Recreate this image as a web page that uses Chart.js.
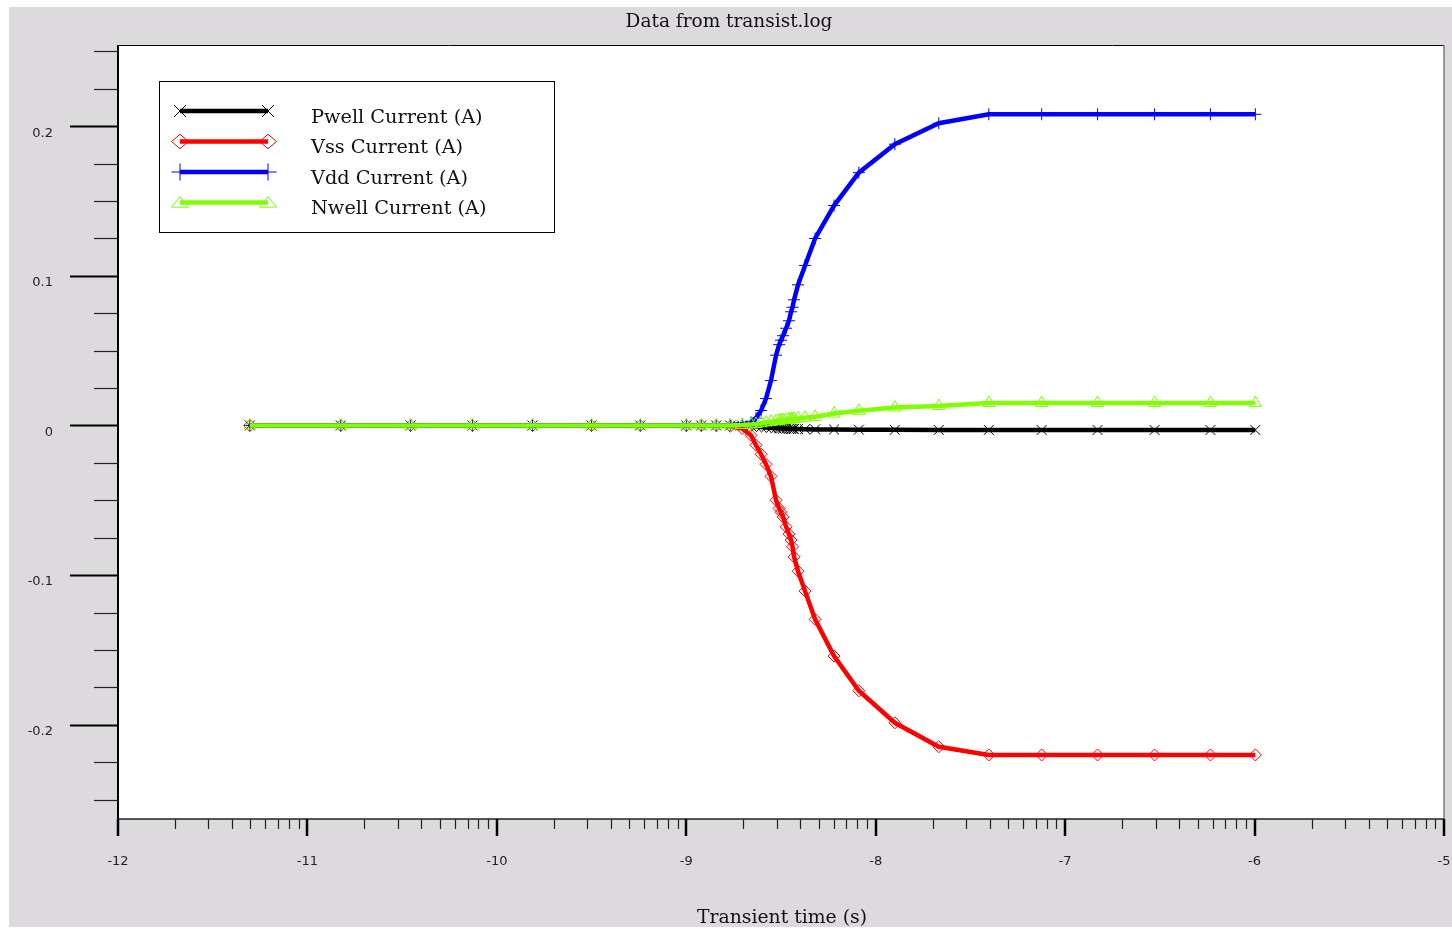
<!DOCTYPE html>
<html><head><meta charset="utf-8">
<script src="https://cdn.jsdelivr.net/npm/chart.js@4.4.1/dist/chart.umd.min.js"></script>
<style>html,body{margin:0;padding:0;background:#fff;overflow:hidden}</style>
</head><body>
<canvas id="c" width="1452" height="929"></canvas>
<script>
const chartTitle = 'Data from transist.log';
const xAxisTitle = 'Transient time (s)';
const seriesNames = ['Pwell Current (A)', 'Vss Current (A)', 'Vdd Current (A)', 'Nwell Current (A)'];
const seriesColors = ['#000000', '#ff0000', '#0000ff', '#80ff00'];
const seriesMarkers = ['crossRot', 'rectRot', 'cross', 'triangle'];

// x values: log10 of transient time (s)
const logTime = [-11.304, -10.824, -10.455, -10.129, -9.812, -9.501, -9.243, -9.0, -8.921, -8.842,
  -8.768, -8.705, -8.658, -8.632, -8.605, -8.579, -8.553, -8.526, -8.510, -8.500,
  -8.489, -8.473, -8.458, -8.447, -8.439, -8.431, -8.410, -8.373, -8.320, -8.220,
  -8.089, -7.899, -7.667, -7.403, -7.124, -6.829, -6.528, -6.233, -5.996];
const pwellCurrent = [0, 0, 0, 0, 0, 0, 0, 0, 0, 0,
  0, 0, -0.0003, -0.0006, -0.001, -0.0013, -0.0016, -0.0018, -0.0019, -0.002,
  -0.002, -0.0021, -0.0022, -0.0022, -0.0023, -0.0023, -0.0024, -0.0025, -0.0026, -0.0027,
  -0.0028, -0.0029, -0.003, -0.003, -0.003, -0.003, -0.003, -0.003, -0.003];
const vssCurrent = [0, 0, 0, 0, 0, 0, 0, 0, 0, 0,
  -0.0005, -0.002, -0.0066, -0.0132, -0.0192, -0.026, -0.034, -0.050, -0.0554, -0.058,
  -0.0611, -0.0677, -0.0726, -0.0766, -0.0811, -0.0878, -0.0974, -0.1107, -0.1296, -0.1541,
  -0.1773, -0.1987, -0.2147, -0.2202, -0.2202, -0.2202, -0.2202, -0.2202, -0.2202];
const vddCurrent = [0, 0, 0, 0, 0, 0, 0, 0, 0, 0,
  0.0003, 0.001, 0.002, 0.005, 0.010, 0.018, 0.030, 0.047, 0.054, 0.057,
  0.060, 0.065, 0.070, 0.076, 0.079, 0.084, 0.094, 0.107, 0.125, 0.147,
  0.169, 0.188, 0.202, 0.208, 0.208, 0.208, 0.208, 0.208, 0.208];
const nwellCurrent = [0, 0, 0, 0, 0, 0, 0, 0, 0, 0,
  0, 0.0003, 0.0007, 0.001, 0.0015, 0.002, 0.0025, 0.003, 0.0032, 0.0034,
  0.0036, 0.0038, 0.0040, 0.0042, 0.0043, 0.0044, 0.0047, 0.0052, 0.0058, 0.008,
  0.0098, 0.012, 0.013, 0.015, 0.015, 0.015, 0.015, 0.015, 0.015];

const xTickValues = [-12, -11, -10, -9, -8, -7, -6, -5];
const xTickLabels = ['-12', '-11', '-10', '-9', '-8', '-7', '-6', '-5'];
const yTickValues = [-0.2, -0.1, 0, 0.1, 0.2];
const yTickLabels = ['-0.2', '-0.1', '0', '0.1', '0.2'];

const seriesValues = [pwellCurrent, vssCurrent, vddCurrent, nwellCurrent];

function drawMarker(ctx, style, x, y, r) {
  ctx.beginPath();
  if (style === 'crossRot') {
    const d = r * Math.SQRT1_2;
    ctx.moveTo(x - d, y - d); ctx.lineTo(x + d, y + d);
    ctx.moveTo(x - d, y + d); ctx.lineTo(x + d, y - d);
  } else if (style === 'cross') {
    ctx.moveTo(x - r, y); ctx.lineTo(x + r, y);
    ctx.moveTo(x, y - r); ctx.lineTo(x, y + r);
  } else if (style === 'rectRot') {
    ctx.moveTo(x - r, y); ctx.lineTo(x, y - r * 0.85); ctx.lineTo(x + r, y); ctx.lineTo(x, y + r * 0.85); ctx.closePath();
  } else if (style === 'triangle') {
    ctx.moveTo(x - r, y + r * 0.55); ctx.lineTo(x, y - r * 0.7); ctx.lineTo(x + r, y + r * 0.55); ctx.closePath();
  }
  ctx.stroke();
}

const framePlugin = {
  id: 'frame',
  beforeDraw(chart) {
    const ctx = chart.ctx, ca = chart.chartArea;
    ctx.save();
    ctx.fillStyle = '#ffffff';
    ctx.fillRect(0, 0, chart.width, chart.height);
    ctx.fillStyle = '#dcdadd';
    ctx.fillRect(9, 7, chart.width - 9, 920);
    ctx.fillStyle = '#ffffff';
    ctx.fillRect(ca.left, ca.top, ca.right - ca.left, ca.bottom - ca.top);
    ctx.restore();
  },
  afterDraw(chart) {
    const ctx = chart.ctx, ca = chart.chartArea;
    const xs = chart.scales.x, ys = chart.scales.y;
    ctx.save();
    // border
    ctx.strokeStyle = '#000';
    ctx.lineWidth = 1;
    ctx.beginPath(); ctx.moveTo(ca.left, ca.top + 0.5); ctx.lineTo(ca.right, ca.top + 0.5); ctx.stroke();
    ctx.strokeStyle = '#7a7a7a';
    ctx.lineWidth = 1.5;
    ctx.beginPath(); ctx.moveTo(ca.right, ca.top); ctx.lineTo(ca.right, ca.bottom); ctx.stroke();
    ctx.strokeStyle = '#222';
    ctx.lineWidth = 1.5;
    ctx.beginPath(); ctx.moveTo(ca.left, ca.bottom); ctx.lineTo(ca.right, ca.bottom); ctx.stroke();
    ctx.strokeStyle = '#000';
    ctx.lineWidth = 2;
    ctx.beginPath(); ctx.moveTo(ca.left, ca.top); ctx.lineTo(ca.left, ca.bottom); ctx.stroke();
    // y ticks
    for (let k = -10; k <= 10; k++) {
      const py = Math.round(ys.getPixelForValue(k * 0.025)) + 0.5;
      const major = (k % 4 === 0);
      ctx.lineWidth = major ? 2 : 1.2;
      ctx.strokeStyle = major ? '#000' : '#222';
      ctx.beginPath();
      ctx.moveTo(ca.left - (major ? 48 : 24), py);
      ctx.lineTo(ca.left, py);
      ctx.stroke();
    }
    // x ticks
    for (let d = xTickValues[0]; d <= xTickValues[xTickValues.length - 1]; d++) {
      let px = Math.round(xs.getPixelForValue(d));
      ctx.lineWidth = 2.5; ctx.strokeStyle = '#000';
      ctx.beginPath(); ctx.moveTo(px, ca.bottom); ctx.lineTo(px, ca.bottom + 17); ctx.stroke();
      if (d < xTickValues[xTickValues.length - 1]) {
        for (let k = 2; k <= 9; k++) {
          px = Math.round(xs.getPixelForValue(d + Math.log10(k))) + 0.5;
          ctx.lineWidth = 1.2; ctx.strokeStyle = '#222';
          ctx.beginPath(); ctx.moveTo(px, ca.bottom); ctx.lineTo(px, ca.bottom + 10); ctx.stroke();
        }
      }
    }
    // titles
    ctx.fillStyle = '#111';
    ctx.textAlign = 'center';
    ctx.textBaseline = 'alphabetic';
    ctx.font = '18.5px "DejaVu Serif"';
    ctx.fillText(chartTitle, 729, 27);
    ctx.font = '18.8px "DejaVu Serif"';
    ctx.fillText(xAxisTitle, 782, 923);
    ctx.restore();
  },
  afterDatasetsDraw(chart) {
    const ctx = chart.ctx;
    ctx.save();
    // legend box
    ctx.fillStyle = '#fff';
    ctx.fillRect(159, 81, 395, 151);
    ctx.strokeStyle = '#000';
    ctx.lineWidth = 1;
    ctx.strokeRect(159.5, 81.5, 395, 151);
    const rows = [111, 141.5, 172, 202.5];
    ctx.font = '19.3px "DejaVu Serif"';
    ctx.textAlign = 'left';
    ctx.textBaseline = 'alphabetic';
    for (let i = 0; i < seriesNames.length; i++) {
      const y = rows[i];
      ctx.strokeStyle = seriesColors[i];
      ctx.lineWidth = 4.5;
      ctx.beginPath(); ctx.moveTo(180, y); ctx.lineTo(268, y); ctx.stroke();
      ctx.lineWidth = 1;
      drawMarker(ctx, seriesMarkers[i], 180, y, 8.5);
      drawMarker(ctx, seriesMarkers[i], 268, y, 8.5);
      ctx.fillStyle = '#111';
      ctx.fillText(seriesNames[i], 311, y + 11.5);
    }
    ctx.restore();
  }
};

const orders = [3, 2, 1, 0];
const radii = [7, 6, 6, 7];
const datasets = seriesNames.map((name, i) => ({
  label: name,
  data: logTime.map((t, j) => ({ x: t, y: seriesValues[i][j] })),
  borderColor: seriesColors[i],
  backgroundColor: seriesColors[i],
  borderWidth: 4.5,
  pointStyle: seriesMarkers[i],
  pointRadius: radii[i],
  pointHoverRadius: radii[i],
  pointBorderColor: seriesColors[i],
  pointBackgroundColor: 'rgba(0,0,0,0)',
  pointBorderWidth: 1,
  tension: 0,
  order: orders[i],
  clip: false
}));

new Chart(document.getElementById('c'), {
  type: 'line',
  data: { datasets },
  options: {
    responsive: false,
    animation: false,
    devicePixelRatio: 1,
    events: [],
    layout: { padding: { top: 45, right: 6, left: 0, bottom: 0 } },
    plugins: { legend: { display: false }, title: { display: false }, tooltip: { enabled: false } },
    scales: {
      x: {
        type: 'linear', min: -12, max: -5,
        afterBuildTicks: s => { s.ticks = xTickValues.map(v => ({ value: v })); },
        afterFit: s => { s.height = 110; s.paddingLeft = 0; s.paddingRight = 0; s.paddingTop = 0; s.paddingBottom = 0; },
        grid: { display: false, drawTicks: false },
        border: { display: false },
        ticks: { padding: 35, autoSkip: false, maxRotation: 0, color: '#222',
          font: { family: 'DejaVu Sans', size: 13 },
          callback: (v, i) => xTickLabels[i] }
      },
      y: {
        type: 'linear', min: -0.263, max: 0.2543,
        afterBuildTicks: s => { s.ticks = yTickValues.map(v => ({ value: v })); },
        afterFit: s => { s.width = 118; s.paddingLeft = 0; s.paddingRight = 0; s.paddingTop = 0; s.paddingBottom = 0; },
        grid: { display: false, drawTicks: false },
        border: { display: false },
        ticks: { padding: 65, labelOffset: 7, autoSkip: false, color: '#222',
          font: { family: 'DejaVu Sans', size: 13 },
          callback: (v, i) => yTickLabels[i] }
      }
    }
  },
  plugins: [framePlugin]
});
</script>
</body></html>
